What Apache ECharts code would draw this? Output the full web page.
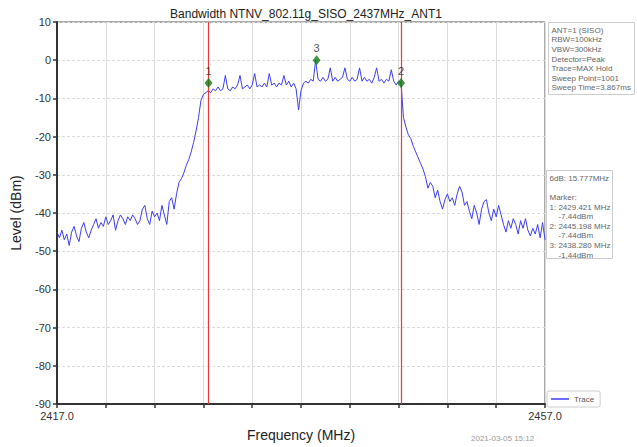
<!DOCTYPE html>
<html><head><meta charset="utf-8">
<script src="https://cdn.jsdelivr.net/npm/echarts@6/dist/echarts.min.js"></script>
<style>html,body{margin:0;padding:0;background:#fff}#c{width:637px;height:447px}</style>
</head><body><div id="c"></div>
<script>
// Trace levels (dBm), sampled every 0.2 MHz from 2417.0 to 2457.0
const freqStart = 2417.0;
const freqStep = 0.2;
const traceLevels = [
  -45, -46.5, -44.5, -47, -45.5, -48.5, -45, -43.5, -46, -47.5,
  -44, -42.5, -45, -46.5, -44.5, -43, -41.5, -44, -42.5, -43.5,
  -41, -43, -42, -40.5, -44.5, -42, -40.5, -41.5, -43, -41,
  -42, -40.5, -41.5, -43, -42, -39, -38, -41.5, -43, -39.5,
  -41, -40, -42, -38, -40.5, -43, -37, -36, -39, -35,
  -32, -31, -29.5, -27.5, -26, -24, -21.5, -18.5, -15, -10.5,
  -9, -8.5, -8, -8.5, -7.5, -8, -7, -8, -7.5, -4,
  -7.5, -8, -7, -7.5, -6.5, -4, -7.5, -7, -6.5, -7.5,
  -6.5, -3.5, -7, -6.5, -7, -6, -7, -3.5, -6.5, -6,
  -7, -6, -6.5, -4, -6.5, -5.5, -7, -6, -7.5, -13,
  -8, -6, -5.5, -6, -5, -5.5, 0, -5, -5.5, -4.5,
  -5.5, -5, -2, -5.5, -4.5, -5.5, -5, -4.5, -2, -5,
  -5.5, -4.5, -5.5, -5, -2, -5.5, -4.5, -5.5, -5, -6,
  -4.5, -2, -5.5, -5, -6, -5, -5.5, -2.5, -5.5, -6.5,
  -5.5, -6, -15, -17.5, -19.5, -20.5, -22.5, -24, -25.5, -27,
  -28.5, -30.5, -33.5, -32, -33, -36, -34, -37, -39, -36.5,
  -35, -37, -36, -38, -35, -33, -34.5, -38, -37, -39.5,
  -41.5, -38, -40, -43, -39, -37, -36.5, -40, -42, -39,
  -41, -38, -40.5, -43, -45, -42, -44, -41.5, -43, -45.5,
  -42, -44, -41.5, -44.5, -46, -44, -45.5, -43, -46.5, -42.5,
  -47
];
// Markers
const markerNames = ['1', '2', '3'];
const markerFreqs = [2429.421, 2445.198, 2438.280];
const markerLevels = [-6, -6, 0];
const markerText = ['2429.421 MHz', '2445.198 MHz', '2438.280 MHz'];
const markerDbm = ['-7.44dBm', '-7.44dBm', '-1.44dBm'];
// Axes
const xMin = 2417, xMax = 2457, xInterval = 4;
const yMin = -90, yMax = 10, yInterval = 10;
const infoLines = ['ANT=1 (SISO)', 'RBW=100kHz', 'VBW=300kHz', 'Detector=Peak', 'Trace=MAX Hold', 'Sweep Point=1001', 'Sweep Time=3.867ms'];
const obwText = '6dB: 15.777MHz';
const dateText = '2021-03-05 15:12';

const traceData = traceLevels.map((v, i) => [+(freqStart + i * freqStep).toFixed(2), v]);
const markerData = markerFreqs.map((f, i) => ({ name: markerNames[i], value: [f, markerLevels[i]] }));

let markerBox = [obwText, '', 'Marker:'];
markerNames.forEach((n, i) => { markerBox.push(n + ': ' + markerText[i]); markerBox.push('    ' + markerDbm[i]); });

const FONT = 'Liberation Sans, Arial, sans-serif';
const RED = '#e8383a';
const chart = echarts.init(document.getElementById('c'), null, { renderer: 'svg' });
chart.setOption({
  animation: false,
  backgroundColor: '#fff',
  textStyle: { fontFamily: FONT },
  title: {
    text: 'Bandwidth NTNV_802.11g_SISO_2437MHz_ANT1',
    left: 301, top: 3, textAlign: 'center',
    textStyle: { fontSize: 12, fontWeight: 'normal', color: '#222', fontFamily: FONT }
  },
  grid: { left: 57, right: 92, top: 22, bottom: 41, show: true, borderColor: '#555', borderWidth: 1, backgroundColor: 'transparent' },
  legend: {
    data: [{ name: 'Trace', icon: 'rect' }],
    left: 547, top: 391, orient: 'vertical',
    itemWidth: 18, itemHeight: 1.5, itemGap: 2,
    padding: [4, 6, 4, 4],
    borderColor: '#ccc', borderWidth: 1, borderRadius: 2,
    textStyle: { fontSize: 8, color: '#555', fontFamily: FONT }
  },
  xAxis: {
    type: 'value', min: xMin, max: xMax, interval: xInterval,
    name: 'Frequency (MHz)', nameLocation: 'middle', nameGap: 24,
    nameTextStyle: { fontSize: 14, color: '#222', fontFamily: FONT },
    axisLine: { show: true, onZero: false, lineStyle: { color: '#333', width: 2 } },
    axisTick: { show: true, length: 4, inside: false, lineStyle: { color: '#333', width: 1.5 } },
    axisLabel: {
      fontSize: 11, color: '#333', margin: 6, showMinLabel: true, showMaxLabel: true,
      formatter: v => (v === xMin || v === xMax) ? v.toFixed(1) : ''
    },
    splitLine: { show: true, lineStyle: { color: '#dcdcdc', width: 1 } }
  },
  yAxis: {
    type: 'value', min: yMin, max: yMax, interval: yInterval,
    name: 'Level (dBm)', nameLocation: 'middle', nameGap: 34, nameRotate: 90,
    nameTextStyle: { fontSize: 14, color: '#222', fontFamily: FONT },
    axisLine: { show: true, onZero: false, lineStyle: { color: '#333', width: 2 } },
    axisTick: { show: true, length: 4, inside: false, lineStyle: { color: '#333', width: 1.5 } },
    axisLabel: { fontSize: 11, color: '#333', margin: 6 },
    splitLine: { show: true, lineStyle: { color: '#dcdcdc', width: 1, type: [3, 2] } }
  },
  series: [
    {
      name: 'Trace', type: 'line', data: traceData, showSymbol: false, symbol: 'none',
      lineStyle: { color: '#3d3df2', width: 1 }, itemStyle: { color: '#3d3df2' },
      z: 3
    },
    {
      name: 'MarkerLines', type: 'line', data: [], silent: true, z: 4,
      markLine: {
        silent: true, symbol: ['none', 'none'], animation: false,
        label: { show: false },
        lineStyle: { color: RED, width: 1.2, type: 'solid', opacity: 1 },
        data: markerFreqs.slice(0, 2).map(f => ({ xAxis: f, lineStyle: { color: RED, width: 1.2, type: 'solid' } }))
      }
    },
    {
      name: 'Markers', type: 'scatter', data: markerData,
      symbol: 'diamond', symbolSize: [8, 10],
      itemStyle: { color: '#127a12' }, z: 5,
      label: { show: true, position: 'top', distance: 2, formatter: p => p.name, fontSize: 11, color: '#222', fontFamily: FONT }
    }
  ],
  graphic: [
    {
      type: 'group', left: 548, top: 22,
      children: [
        { type: 'rect', shape: { x: 0, y: 0, width: 86, height: 72 }, style: { fill: '#fff', stroke: '#ccc', lineWidth: 1 } },
        { type: 'text', x: 3, y: 3, style: { text: infoLines.join('\n'), fontSize: 8, lineHeight: 9.6, fill: '#666', fontFamily: FONT } }
      ]
    },
    {
      type: 'group', left: 546, top: 170,
      children: [
        { type: 'rect', shape: { x: 0, y: 0, width: 66, height: 88 }, style: { fill: '#fff', stroke: '#ccc', lineWidth: 1 } },
        { type: 'text', x: 3, y: 3, style: { text: markerBox.join('\n'), fontSize: 8, lineHeight: 9.6, fill: '#666', fontFamily: FONT } }
      ]
    },
    {
      type: 'text', left: 471, top: 434,
      style: { text: dateText, fontSize: 8, fill: '#999', fontFamily: FONT }
    }
  ]
});
</script>
</body></html>
